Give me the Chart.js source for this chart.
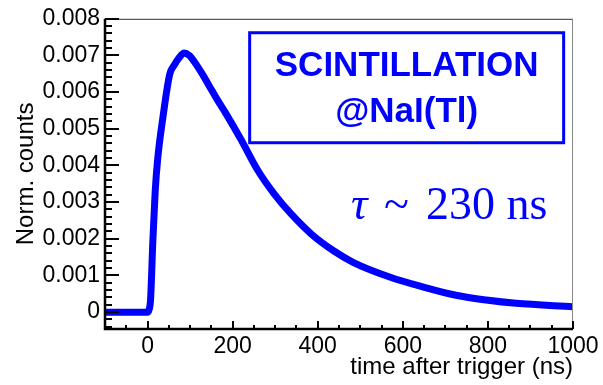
<!DOCTYPE html>
<html>
<head>
<meta charset="utf-8">
<script src="https://cdn.jsdelivr.net/npm/chart.js@4.4.1/dist/chart.umd.min.js"></script>
<style>
  html, body { margin: 0; padding: 0; background: #fff; }
</style>
</head>
<body>
<canvas id="pulseChart" width="603" height="385"></canvas>
<script>
// NaI(Tl) scintillation pulse
const timeNs = [-100, -50, 0, 3, 7, 12.5, 18, 24, 36, 52, 63, 75, 86, 98, 110, 130, 146, 161, 185, 220, 259, 298, 338, 385, 439, 483, 569, 647, 725, 796, 866, 1000];
const normCounts = [0, 0, 0, 0.00005, 0.00033, 0.00195, 0.0033, 0.0042, 0.0053, 0.00648, 0.00674, 0.00695, 0.00707, 0.007, 0.00683, 0.00647, 0.00615, 0.00585, 0.0054, 0.0047, 0.00387, 0.00322, 0.00267, 0.00213, 0.00166, 0.00136, 0.00096, 0.00069, 0.00046, 0.00033, 0.00024, 0.00015];

// axis ticks
const xTickValues = [0, 200, 400, 600, 800, 1000];
const xTickLabels = ['0', '200', '400', '600', '800', '1000'];
const yTickValues = [0, 0.001, 0.002, 0.003, 0.004, 0.005, 0.006, 0.007, 0.008];
const yTickLabels = ['0', '0.001', '0.002', '0.003', '0.004', '0.005', '0.006', '0.007', '0.008'];

const BLUE = '#0000ff';
const FONT = '"Liberation Sans", Arial, sans-serif';

function labelFor(values, labels) {
    return (v) => {
        const k = values.findIndex(t => Math.abs(t - v) < 1e-9);
        return k >= 0 ? labels[k] : '';
    };
}

// inside ticks, frame and the text box (ROOT style)
const rootFrame = {
    id: 'rootFrame',
    afterDatasetsDraw(chart) {
        const { ctx, chartArea: a, scales: { x, y } } = chart;
        ctx.save();

        // thin frame top / right
        ctx.lineWidth = 1;
        ctx.strokeStyle = '#333';
        ctx.beginPath();
        ctx.moveTo(a.left, a.top + 0.5);
        ctx.lineTo(a.right, a.top + 0.5);
        ctx.stroke();
        ctx.strokeStyle = '#888';
        ctx.beginPath();
        ctx.moveTo(a.right - 0.5, a.top);
        ctx.lineTo(a.right - 0.5, a.bottom);
        ctx.stroke();

        // axis lines
        ctx.strokeStyle = '#000';
        ctx.lineWidth = 2.5;
        ctx.beginPath();
        ctx.moveTo(a.left, a.top);
        ctx.lineTo(a.left, a.bottom);
        ctx.lineTo(a.right, a.bottom);
        ctx.stroke();

        // y ticks every 0.0002, long every 0.001
        ctx.lineWidth = 2;
        for (let i = -2; i <= 40; i++) {
            const v = i * 0.0002;
            if (v < y.min) continue;
            const py = Math.round(y.getPixelForValue(v));
            const len = i % 5 === 0 ? 14 : 7;
            ctx.beginPath();
            ctx.moveTo(a.left, py);
            ctx.lineTo(a.left + len, py);
            ctx.stroke();
        }
        // x ticks every 50, long every 200
        for (let t = -100; t <= 1000; t += 50) {
            const px = Math.round(x.getPixelForValue(t));
            const len = t % 200 === 0 ? 8 : 4;
            ctx.beginPath();
            ctx.moveTo(px, a.bottom);
            ctx.lineTo(px, a.bottom - len);
            ctx.stroke();
        }

        // label box
        const bx0 = x.getPixelForValue(240), bx1 = x.getPixelForValue(978);
        const by0 = y.getPixelForValue(0.00762), by1 = y.getPixelForValue(0.00462);
        ctx.strokeStyle = BLUE;
        ctx.lineWidth = 3;
        ctx.strokeRect(bx0, by0, bx1 - bx0, by1 - by0);

        ctx.fillStyle = BLUE;
        ctx.textAlign = 'center';
        ctx.textBaseline = 'middle';
        ctx.font = 'bold 35px ' + FONT;
        const cx = (bx0 + bx1) / 2;
        ctx.fillText('SCINTILLATION', cx, y.getPixelForValue(0.00669));
        ctx.fillText('@NaI(Tl)', cx, y.getPixelForValue(0.00545));

        // tau ~ 230 ns
        const tx = x.getPixelForValue(478);
        const ty = y.getPixelForValue(0.00255);
        ctx.textAlign = 'left';
        ctx.textBaseline = 'alphabetic';
        ctx.font = 'italic 46px "Liberation Serif", serif';
        ctx.fillText('τ', tx, ty);
        ctx.font = '46px "Liberation Serif", serif';
        ctx.fillText('~', tx + 33, ty);
        ctx.fillText('230 ns', tx + 75, ty);

        ctx.restore();
    }
};

const ctx = document.getElementById('pulseChart').getContext('2d');
const pulseChart = new Chart(ctx, {
    type: 'line',
    data: {
        datasets: [{
            label: 'NaI(Tl)',
            data: timeNs.map((t, i) => ({ x: t, y: normCounts[i] })),
            borderColor: BLUE,
            borderWidth: 7,
            borderJoinStyle: 'round',
            pointRadius: 0,
            cubicInterpolationMode: 'monotone',
            fill: false
        }]
    },
    options: {
        responsive: false,
        animation: false,
        devicePixelRatio: 1,
        layout: { padding: { left: 8, right: 30, top: 17, bottom: 0 } },
        plugins: {
            legend: { display: false },
            tooltip: { enabled: false }
        },
        scales: {
            x: {
                type: 'linear',
                min: -100,
                max: 1000,
                grid: { display: false, drawTicks: false },
                border: { display: false },
                afterBuildTicks: scale => { scale.ticks = xTickValues.map(v => ({ value: v })); },
                afterFit: scale => { scale.height = 56; },
                ticks: {
                    padding: 4,
                    maxRotation: 0,
                    color: '#000',
                    font: { family: FONT, size: 23 },
                    callback: labelFor(xTickValues, xTickLabels)
                },
                title: {
                    display: true,
                    text: 'time after trigger (ns)',
                    align: 'end',
                    color: '#000',
                    padding: { top: 0, bottom: 3 },
                    font: { family: FONT, size: 24 }
                }
            },
            y: {
                type: 'linear',
                min: -0.00046,
                max: 0.008,
                grid: { display: false, drawTicks: false },
                border: { display: false },
                afterBuildTicks: scale => { scale.ticks = yTickValues.map(v => ({ value: v })); },
                afterFit: scale => { scale.width = 97; },
                ticks: {
                    padding: 5,
                    color: '#000',
                    font: { family: FONT, size: 23 },
                    callback: labelFor(yTickValues, yTickLabels)
                },
                title: {
                    display: true,
                    text: 'Norm. counts',
                    color: '#000',
                    padding: { top: 4, bottom: 0 },
                    font: { family: FONT, size: 24 }
                }
            }
        }
    },
    plugins: [rootFrame]
});
</script>
</body>
</html>
